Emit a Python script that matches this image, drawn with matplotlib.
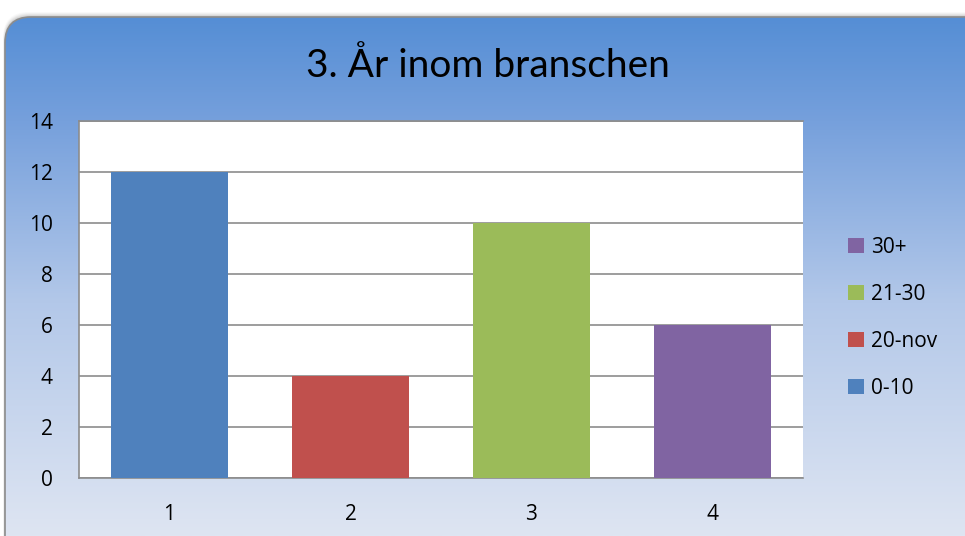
import matplotlib
matplotlib.use("Agg")
import matplotlib.pyplot as plt
import numpy as np
from matplotlib.patches import FancyBboxPatch
from matplotlib.colors import LinearSegmentedColormap

title = "3. År inom branschen"
categories = [1, 2, 3, 4]
values = [12, 4, 10, 6]
series_labels = ["0-10", "20-nov", "21-30", "30+"]
colors = ["#4F81BD", "#C0504D", "#9BBB59", "#8064A2"]
yticks = [0, 2, 4, 6, 8, 10, 12, 14]

W, H = 965, 536
fig = plt.figure(figsize=(W / 100, H / 100), dpi=100)
fig.patch.set_facecolor("white")

# background card with shadow and gradient
bg = fig.add_axes([0, 0, 1, 1], zorder=0)
bg.set_xlim(0, W)
bg.set_ylim(H, 0)
bg.axis("off")
for i, a in enumerate([0.04, 0.06, 0.08, 0.11, 0.14]):
    off = 5 - i
    sh = FancyBboxPatch((5 - off * 0.4, 17 - off), 1000, 600,
                        boxstyle="round,pad=0,rounding_size=26",
                        facecolor="#707070", edgecolor="none", alpha=a,
                        transform=bg.transData)
    bg.add_patch(sh)
card = FancyBboxPatch((5, 17), 1000, 600,
                      boxstyle="round,pad=0,rounding_size=26",
                      facecolor="none", edgecolor="#8C8C8C", linewidth=1.2,
                      transform=bg.transData, zorder=3)
bg.add_patch(card)
cmap = LinearSegmentedColormap.from_list(
    "g", [(0.0, "#558ED5"), (0.2, "#76A0DC"), (0.55, "#B3C8E9"), (1.0, "#DEE5F2")])
grad = np.linspace(0, 1, 256).reshape(-1, 1)
im = bg.imshow(grad, cmap=cmap, extent=[5, 1005, 536, 17], aspect="auto", zorder=2)
im.set_clip_path(card)
bg.set_xlim(0, W)
bg.set_ylim(H, 0)

fig.text(0.506, 1 - 66 / 536, title, ha="center", va="center",
         fontsize=28, family="Lato", color="black")

ax = fig.add_axes([79 / W, 1 - 478 / H, (803 - 79) / W, (478 - 121) / H], zorder=2)
ax.set_facecolor("white")
for x, v, lab, c in zip(categories, values, series_labels, colors):
    ax.bar(x, v, width=0.65, color=c, label=lab, zorder=3)
ax.set_xlim(0.5, 4.5)
ax.set_ylim(0, 14)
ax.set_yticks(yticks)
ax.set_xticks(categories)
ax.yaxis.grid(True, color="#8C8C8C", linewidth=1.2, zorder=1)
ax.set_axisbelow(True)
for s in ["top", "left", "bottom"]:
    ax.spines[s].set_color("#8C8C8C")
    ax.spines[s].set_linewidth(1.2)
ax.spines["right"].set_visible(False)
ax.tick_params(length=0, labelsize=15, colors="black")
ax.tick_params(axis="y", pad=19)
ax.tick_params(axis="x", pad=19)
for t in ax.get_xticklabels() + ax.get_yticklabels():
    t.set_family("Open Sans")

handles, labels = ax.get_legend_handles_labels()
leg = fig.legend(handles[::-1], labels[::-1], loc="center left",
                 bbox_to_anchor=(840 / W, 1 - 318 / H), frameon=False,
                 prop={"family": "Open Sans", "size": 15},
                 handlelength=0.75, handleheight=0.75, handletextpad=0.35,
                 labelspacing=1.25, borderaxespad=0)

fig.savefig("out.png", dpi=100)
